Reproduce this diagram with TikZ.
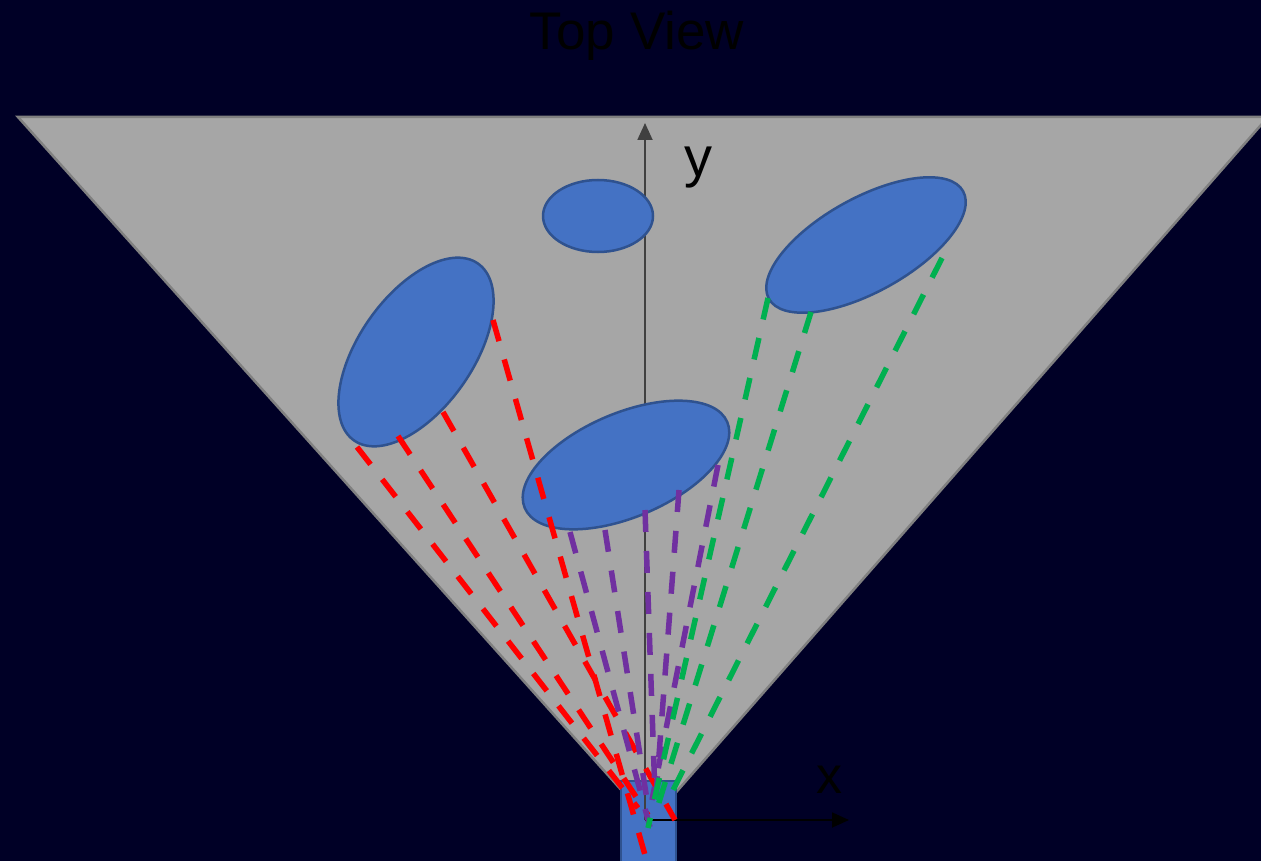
\documentclass[tikz,border=0pt]{standalone}
\usepackage{fontspec}
\setmainfont{Liberation Sans}
\usetikzlibrary{arrows.meta,shapes.geometric}
\definecolor{nightbg}{RGB}{0,0,38}
\definecolor{fovgrey}{RGB}{166,166,166}
\definecolor{fovedge}{RGB}{128,128,128}
\definecolor{objblue}{RGB}{68,114,196}
\definecolor{objedge}{RGB}{47,82,143}
\definecolor{beamred}{RGB}{255,0,0}
\definecolor{beampurple}{RGB}{112,48,160}
\definecolor{beamgreen}{RGB}{0,176,80}
\tikzset{
    blob/.style={ellipse, draw=objedge, line width=2.5pt, fill=objblue,
                 inner sep=0pt, outer sep=0pt},
    beam/.style={draw=#1, line width=5.5pt, dash pattern=on 22pt off 19pt},
    axisline/.style={line width=1.8pt, -{Triangle[length=17pt,width=15pt]}},
    lbl/.style={font=\fontsize{#1}{60}\selectfont, text=black, inner sep=0pt},
    lbl/.default=52,
}
\begin{document}
\begin{tikzpicture}[x=1pt, y=-1pt]
    \useasboundingbox (0,0) rectangle (1261,861);
    \fill[nightbg] (0,0) rectangle (1261,861);

    % title
    \node[lbl=53, anchor=base] (title) at (637,50) {Top View};

    % field of view
    \draw[fovedge, line width=2.5pt, fill=fovgrey]
        (18,117) -- (1268,117) -- (650,822) -- cycle;

    % sensor
    \node[draw=objedge, line width=2pt, fill=objblue, minimum width=55pt,
          minimum height=90pt, anchor=north west, inner sep=0pt] (sensor) at (620,780) {};

    % axes
    \coordinate (origin) at (645,820);
    \coordinate (ytip) at (645,123);
    \coordinate (xtip) at (849,820);
    \draw[axisline, draw=black!75, fill=black] (origin) -- (ytip);
    \draw[axisline, black] (origin) -- (xtip);
    \node[lbl=56, anchor=base] (ylab) at (698,177) {y};
    \node[lbl=52, anchor=base] (xlab) at (829,793) {x};

    % objects
    \node[blob, minimum width=110pt, minimum height=72pt] (top) at (598,216) {};
    \node[blob, minimum width=216pt, minimum height=114pt, rotate=55] (left) at (416,352) {};
    \node[blob, minimum width=220pt, minimum height=104pt, rotate=23] (mid) at (626,465) {};
    \node[blob, minimum width=222pt, minimum height=94pt, rotate=29] (right) at (866,245) {};

    % reflections from the left object
    \coordinate (r1s) at (357,447);  \coordinate (r1e) at (638,808);
    \coordinate (r2s) at (398,436);  \coordinate (r2e) at (648,815);
    \coordinate (r3s) at (443,412);  \coordinate (r3e) at (675,820);
    \coordinate (r4s) at (493,320);  \coordinate (r4e) at (645,855);
    \draw[beam=beamred] (r1s) -- (r1e);
    \draw[beam=beamred] (r2s) -- (r2e);
    \draw[beam=beamred] (r3s) -- (r3e);
    \draw[beam=beamred] (r4s) -- (r4e);

    % reflections from the middle object
    \coordinate (p1s) at (570,532);  \coordinate (p1e) at (650,827);
    \coordinate (p2s) at (605,530);  \coordinate (p2e) at (647,800);
    \coordinate (p3s) at (645,510);  \coordinate (p3e) at (655,795);
    \coordinate (p4s) at (679,490);  \coordinate (p4e) at (656,795);
    \coordinate (p5s) at (718,465);  \coordinate (p5e) at (652,800);
    \draw[beam=beampurple] (p1s) -- (p1e);
    \draw[beam=beampurple] (p2s) -- (p2e);
    \draw[beam=beampurple] (p3s) -- (p3e);
    \draw[beam=beampurple] (p4s) -- (p4e);
    \draw[beam=beampurple] (p5s) -- (p5e);

    % reflections from the right object
    \coordinate (g1s) at (768,298);  \coordinate (g1e) at (648,828);
    \coordinate (g2s) at (811,312);  \coordinate (g2e) at (656,812);
    \coordinate (g3s) at (942,258);  \coordinate (g3e) at (668,800);
    \draw[beam=beamgreen] (g1s) -- (g1e);
    \draw[beam=beamgreen] (g2s) -- (g2e);
    \draw[beam=beamgreen] (g3s) -- (g3e);
\end{tikzpicture}
\end{document}
